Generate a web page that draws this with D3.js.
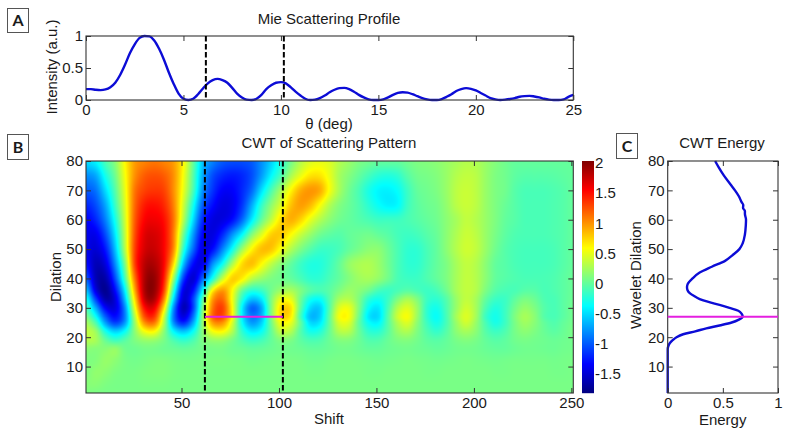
<!DOCTYPE html>
<html><head><meta charset="utf-8">
<style>html,body{margin:0;padding:0;background:#fff}svg{display:block}text{font-family:"Liberation Sans",Arial,sans-serif;fill:#1a1a1a}</style>
<script src="https://cdn.jsdelivr.net/npm/d3@7"></script>
</head><body><svg id="c" width="786" height="433"></svg>
<script>
// ---- Panel A: Mie scattering profile
const thetaValues=[0,.25,.5,.75,1,1.25,1.5,1.75,2,2.25,2.5,2.75,3,3.25,3.5,3.75,4,4.25,4.5,4.75,5,5.25,5.5,5.75,6,6.25,6.5,6.75,7,7.25,7.5,7.75,8,8.25,8.5,8.75,9,9.25,9.5,9.75,10,10.25,10.5,10.75,11,11.25,11.5,11.75,12,12.25,12.5,12.75,13,13.25,13.5,13.75,14,14.25,14.5,14.75,15,15.25,15.5,15.75,16,16.25,16.5,16.75,17,17.25,17.5,17.75,18,18.25,18.5,18.75,19,19.25,19.5,19.75,20,20.25,20.5,20.75,21,21.25,21.5,21.75,22,22.25,22.5,22.75,23,23.25,23.5,23.75,24,24.25,24.5,24.75,25];
const intensityValues=[.17,.17,.16,.155,.165,.2,.27,.39,.55,.73,.87,.97,1,.995,.93,.8,.63,.43,.25,.1,.02,0,.02,.09,.18,.26,.31,.33,.31,.27,.19,.1,.04,.005,0,.02,.08,.17,.23,.27,.28,.26,.2,.13,.07,.02,0,.005,.03,.07,.12,.16,.185,.19,.17,.13,.08,.04,.01,0,0,.01,.04,.08,.11,.12,.115,.09,.06,.03,.01,0,0,.015,.05,.09,.14,.17,.185,.175,.15,.11,.07,.03,.01,0,.005,.015,.03,.05,.06,.065,.055,.04,.02,.005,0,0,.01,.05,.08];
const thetaMarkers=[6.15,10.15];
const thetaTicks=[0,5,10,15,20,25];
const intensityTicks=[0,.5,1];

// ---- Panel B: CWT grid (columns = shift, rows = dilation)
const shiftValues=[1,6,11,16,21,26,31,36,41,46,51,56,61,66,71,76,81,86,91,96,101,106,111,116,121,126,131,136,141,146,151,156,161,166,171,176,181,186,191,196,201,206,211,216,221,226,231,236,241,246,251];
const dilationValues=[80,75,70,65,60,55,50,45,40,36,33,30,27,25,22,19,16,12,8,4,1];
const cwtRows=[
[-.5,-.4,-.1,.15,.6,.95,1.05,1.1,1.05,.95, .6,0,-.6,-.85,-1,-1.05,-1.05,-1,-.8,-.55, -.25,.05,.3,.45,.5,.45,.3,.2,.1,.05, 0,0,0,.05,.1,.12,.15,.2,.25,.3, .28,.2,.12,.05,0,0,0,0,0,0, 0],
[-.8,-.7,-.3,.05,.55,1,1.2,1.25,1.2,1, .55,-.05,-.7,-1.05,-1.2,-1.25,-1.2,-1.05,-.75,-.4, -.1,.25,.5,.68,.68,.5,.25,.12,0,-.12, -.22,-.25,-.2,-.05,.05,.08,.12,.2,.3,.35, .32,.2,.1,.05,-.02,-.05,-.05,-.05,-.04,-.02, 0],
[-1,-.9,-.5,-.05,.5,1.1,1.3,1.35,1.3,1, .5,-.1,-.8,-1.15,-1.35,-1.35,-1.2,-.95,-.5,-.1, .25,.6,.88,.98,.9,.55,.25,.05,-.1,-.28, -.4,-.42,-.35,-.15,0,.05,.1,.2,.33,.38, .33,.2,.1,.05,-.05,-.1,-.1,-.1,-.08,-.05, 0],
[-1.2,-1.05,-.7,-.15,.45,1.15,1.45,1.5,1.4,1.05, .4,-.3,-1,-1.3,-1.45,-1.4,-1.15,-.7,-.2,.15, .45,.8,.95,.85,.58,.3,.12,.02,-.08,-.22, -.35,-.42,-.38,-.15,-.03,.03,.07,.18,.32,.38, .33,.2,.1,.02,-.05,-.1,-.1,-.1,-.08,-.05, 0],
[-1.35,-1.2,-.85,-.3,.4,1.2,1.55,1.6,1.5,1.1, .3,-.5,-1.2,-1.45,-1.45,-1.3,-.95,-.45,0,.35, .7,.88,.75,.5,.3,.15,.05,0,-.05,-.1, -.15,-.15,-.15,-.1,-.05,0,.05,.15,.25,.35, .3,.2,.1,0,-.05,-.1,-.1,-.1,-.08,-.05, 0],
[-1.4,-1.4,-1.05,-.45,.35,1.25,1.65,1.7,1.55,1.05, .05,-.75,-1.35,-1.45,-1.2,-.8,-.4,.1,.45,.75, .78,.6,.38,.2,.05,-.02,-.05,0,.03,.05, 0,-.05,-.12,-.15,-.12,-.05,.02,.15,.28,.38, .33,.2,.08,-.02,-.08,-.1,-.1,-.1,-.08,-.05, 0],
[-1.4,-1.5,-1.25,-.6,.3,1.3,1.7,1.75,1.55,1, -.2,-.95,-1.45,-1.3,-.85,-.35,.2,.6,.82,.8, .55,.3,.1,-.05,-.15,-.15,-.1,0,.08,.15, .15,.03,-.1,-.2,-.2,-.1,0,.15,.3,.4, .35,.2,.05,-.05,-.1,-.12,-.12,-.12,-.1,-.05, 0],
[-1.3,-1.6,-1.45,-.8,.1,1.3,1.8,1.85,1.55,.7, -.6,-1.3,-1.4,-.8,-.35,.25,.7,.82,.6,.35, .15,0,-.15,-.25,-.25,-.15,0,.18,.26,.28, .2,.05,-.1,-.2,-.2,-.1,0,.1,.25,.35, .3,.15,0,-.05,-.1,-.12,-.12,-.12,-.1,-.05, 0],
[-1,-1.6,-1.65,-1.05,-.1,1.1,1.85,1.95,1.45,.2, -1.1,-1.5,-.95,-.3,.35,.75,.65,.35,.2,.1, .05,0,-.1,-.2,-.2,-.1,0,.12,.22,.25, .18,.05,-.1,-.15,-.15,-.08,0,.1,.25,.35, .3,.15,0,-.05,-.08,-.1,-.1,-.1,-.08,-.03, .02],
[-.6,-1.45,-1.75,-1.3,-.4,.9,1.85,1.95,1.3,-.2, -1.4,-1.3,-.4,.6,.95,.6,.05,-.2,-.15,.05, .2,.25,.1,-.05,-.1,-.03,.1,.2,.15,.05, -.1,-.15,-.1,-.05,-.1,-.15,-.1,.05,.25,.35, .3,.1,-.05,-.1,-.1,-.05,-.05,-.1,-.08,-.03, .02],
[-.3,-1.1,-1.65,-1.45,-.6,.7,1.75,1.85,1.05,-.5, -1.5,-1.1,-.05,.95,1.15,.55,-.2,-.6,-.45,.1, .5,.5,.05,-.3,-.35,-.05,.25,.3,.1,-.2, -.3,-.15,.1,.25,.1,-.15,-.2,-.05,.2,.35, .25,0,-.15,-.15,-.02,.08,.03,-.08,-.1,-.03, .03],
[-.1,-.7,-1.35,-1.45,-.8,.5,1.5,1.6,.7,-.8, -1.6,-1.1,.1,1.1,1.3,.6,-.4,-.95,-.7,.1, .7,.7,0,-.5,-.55,-.05,.45,.5,.1,-.35, -.45,-.1,.3,.45,.2,-.2,-.3,-.08,.2,.4, .25,-.08,-.25,-.15,.05,.18,.1,-.05,-.1,-.03, .05],
[.1,-.35,-1,-1.3,-.85,.3,1.25,1.35,.4,-.9, -1.45,-.9,.2,1.15,1.25,.6,-.4,-.85,-.65,.1, .7,.65,-.1,-.62,-.55,0,.55,.55,.05,-.45, -.5,-.05,.4,.55,.2,-.2,-.35,-.1,.25,.45, .25,-.15,-.3,-.15,.1,.25,.15,-.05,-.1,-.03, .05],
[.25,-.1,-.75,-1.1,-.75,.2,1,1.1,.3,-.8, -1.2,-.7,.2,.95,1,.45,-.35,-.75,-.55,.05, .55,.5,0,-.5,-.45,0,.45,.45,0,-.35, -.4,-.05,.3,.45,.15,-.15,-.3,-.1,.2,.4, .2,-.1,-.28,-.15,.08,.22,.14,0,-.07,0, .06],
[.35,.2,-.3,-.55,-.35,.15,.55,.6,.15,-.4, -.6,-.35,.15,.55,.6,.3,-.2,-.45,-.35,0, .35,.3,-.05,-.3,-.25,.02,.3,.3,.03,-.2, -.22,-.03,.2,.28,.1,-.08,-.18,-.05,.15,.25, .15,-.05,-.15,-.08,.07,.15,.1,.02,-.03,.02, .08],
[.3,.25,0,-.15,-.05,.1,.2,.2,.08,-.1, -.2,-.1,.1,.2,.2,.08,-.08,-.18,-.13,0, .12,.1,-.02,-.1,-.08,.03,.12,.12,.03,-.07, -.07,.02,.1,.12,.06,-.02,-.05,0,.08,.12, .08,0,-.05,-.02,.05,.08,.06,.04,.02,.04, .06],
[.15,.13,.14,.18,.05,.04,.07,.07,.04,.02, 0,.02,.06,.08,.08,.04,.02,-.01,0,.03, .06,.05,.03,0,0,.03,.06,.06,.03,0, 0,.03,.05,.06,.04,.02,0,.02,.05,.06, .05,.02,0,0,.03,.05,.05,.04,.03,.05, .06],
[.1,.12,.19,.15,.08,.06,.08,.1,.1,.08, .07,.07,.08,.09,.09,.08,.07,.05,.06,.07, .08,.08,.07,.05,.05,.07,.08,.08,.07,.06, .05,.06,.07,.08,.07,.06,.05,.06,.07,.08, .07,.06,.05,.06,.07,.07,.07,.07,.06,.07, .08],
[.1,.17,.15,.1,.08,.08,.1,.11,.11,.09, .08,.08,.08,.08,.08,.08,.08,.08,.08,.08, .08,.08,.08,.07,.07,.08,.08,.08,.08,.07, .07,.08,.08,.08,.08,.07,.07,.08,.08,.08, .08,.08,.07,.07,.08,.08,.08,.08,.07,.07, .08],
[.13,.14,.1,.08,.08,.08,.09,.09,.09,.08, .08,.08,.08,.08,.08,.08,.08,.08,.08,.08, .08,.08,.08,.08,.08,.08,.08,.08,.08,.08, .08,.08,.08,.08,.08,.08,.08,.08,.08,.08, .08,.08,.08,.08,.08,.08,.08,.08,.08,.08, .08],
[.1,.09,.08,.08,.08,.08,.08,.08,.08,.08, .08,.08,.08,.08,.08,.08,.08,.08,.08,.08, .08,.08,.08,.08,.08,.08,.08,.08,.08,.08, .08,.08,.08,.08,.08,.08,.08,.08,.08,.08, .08,.08,.08,.08,.08,.08,.08,.08,.08,.08, .08]
];
const shiftMarkers=[62,102];
const ridgeDilation=27;
const shiftTicks=[50,100,150,200,250];
const dilationTicks=[10,20,30,40,50,60,70,80];
const colorTicks=[2,1.5,1,.5,0,-.5,-1,-1.5];
const colorDomain=[-1.82,2.03];

// ---- Panel C: CWT energy by dilation
const energyDilation=[80,78,75,72,70,68,66,65,64,63,62,60,58,55,52,50,48,46,44,42,40,38,37,36,35,34,33,32,31,30,29,28,27,26,25,24,23,22,21,20,19,18,17,16,10,1];
const energyValues=[.43,.46,.51,.57,.61,.645,.67,.685,.683,.70,.70,.71,.708,.70,.68,.65,.59,.52,.40,.29,.225,.18,.175,.18,.2,.24,.29,.37,.47,.56,.64,.67,.68,.645,.58,.47,.35,.25,.14,.08,.045,.02,.006,0,0,0];
const energyTicks=[0,.5,1];

const BLUE="#0c0cd6",MAG="#e41fe0",AX="#333";
const svg=d3.select("#c");
const FS=15;

function frame(x,y,xt,yt,xf,yf){
  const [x0,x1]=x.range(),[y0,y1]=y.range();
  const g=svg.append("g");
  const inner=(sel)=>{sel.select(".domain").remove();sel.selectAll("line").attr("stroke",AX);sel.selectAll("text").attr("font-size",FS).attr("fill","#1a1a1a");};
  g.append("g").attr("transform",`translate(0,${y0})`).call(d3.axisBottom(x).tickValues(xt).tickFormat(xf||d3.format("")).tickSizeInner(-5).tickSizeOuter(0).tickPadding(4)).call(inner);
  g.append("g").attr("transform",`translate(0,${y1})`).call(d3.axisTop(x).tickValues(xt).tickFormat("").tickSizeInner(-5).tickSizeOuter(0)).call(inner);
  g.append("g").attr("transform",`translate(${x0},0)`).call(d3.axisLeft(y).tickValues(yt).tickFormat(yf||d3.format("")).tickSizeInner(-5).tickSizeOuter(0).tickPadding(3)).call(inner);
  g.append("g").attr("transform",`translate(${x1},0)`).call(d3.axisRight(y).tickValues(yt).tickFormat("").tickSizeInner(-5).tickSizeOuter(0)).call(inner);
  g.append("rect").attr("x",x0).attr("y",y1).attr("width",x1-x0).attr("height",y0-y1).attr("fill","none").attr("stroke",AX).attr("stroke-width",1.1);
  return g;
}
function label(t,x,y,rot,size,weight,font){
  const s=svg.append("text").text(t).attr("text-anchor","middle").attr("font-size",size||FS);
  if(weight)s.attr("font-weight",weight);
  if(font)s.style("font-family",font);
  if(rot)s.attr("transform",`translate(${x},${y}) rotate(-90)`);else s.attr("x",x).attr("y",y);
  return s;
}
function tag(t,x,y,w,h){
  svg.append("rect").attr("x",x+.5).attr("y",y+.5).attr("width",w).attr("height",h).attr("fill","#fff").attr("stroke","#555").attr("stroke-width",1);
  label(t,x+w/2+.5,y+h/2+6,false,16,"bold","Lato,'Open Sans',sans-serif");
}
const fmtDec=v=>String(v);
const jet=t=>{const c=v=>Math.round(255*Math.max(0,Math.min(1,1.5-Math.abs(4*t-v))));return `rgb(${c(3)},${c(2)},${c(1)})`;};
const color=d3.scaleSequential(jet).domain(colorDomain);

// A
const xA=d3.scaleLinear().domain([0,25]).range([86,573.3]);
const yA=d3.scaleLinear().domain([0,1]).range([100,36]);
svg.append("path").datum(thetaValues.map((t,i)=>[t,intensityValues[i]]))
  .attr("d",d3.line().x(d=>xA(d[0])).y(d=>yA(d[1])).curve(d3.curveMonotoneX))
  .attr("fill","none").attr("stroke",BLUE).attr("stroke-width",2.4);
frame(xA,yA,thetaTicks,intensityTicks,null,fmtDec);
svg.selectAll(".mA").data(thetaMarkers).join("line").attr("x1",d=>xA(d)).attr("x2",d=>xA(d)).attr("y1",yA.range()[1]).attr("y2",yA.range()[0])
  .attr("stroke","#000").attr("stroke-width",2).attr("stroke-dasharray","5.5,2.5");
label("Mie Scattering Profile",329,24);
label("θ (deg)",329,129);
label("Intensity (a.u.)",57,67,true);
tag("A",7,8,21,24);

// B
const xB=d3.scaleLinear().domain([1,251]).range([86,573.3]);
const yB=d3.scaleLinear().domain([1,80]).range([393,161]);
const colIdx=d3.scaleLinear().domain(shiftValues).range(shiftValues.map((_,i)=>i));
const rowIdx=d3.scaleLinear().domain(dilationValues).range(dilationValues.map((_,i)=>i));
const cr=(p0,p1,p2,p3,t)=>.5*(2*p1+(p2-p0)*t+(2*p0-5*p1+4*p2-p3)*t*t+(3*p1-p0-3*p2+p3)*t*t*t);
function sample(d,s){
  const fr=rowIdx(d),fc=colIdx(s),r=Math.min(Math.floor(fr),dilationValues.length-2),c=Math.min(Math.floor(fc),shiftValues.length-2);
  const R=i=>cwtRows[Math.max(0,Math.min(dilationValues.length-1,i))],C=i=>Math.max(0,Math.min(shiftValues.length-1,i));
  const vals=[-1,0,1,2].map(k=>{const row=R(r+k);return cr(row[C(c-1)],row[C(c)],row[C(c+1)],row[C(c+2)],fc-c);});
  return cr(vals[0],vals[1],vals[2],vals[3],fr-r);
}
const cw=Math.round(xB.range()[1]-xB.range()[0]),ch=Math.round(yB.range()[0]-yB.range()[1]);
const cv=document.createElement("canvas");cv.width=cw;cv.height=ch;
const ctx=cv.getContext("2d");
for(let j=0;j<ch;j++)for(let i=0;i<cw;i++){
  ctx.fillStyle=color(sample(yB.invert(yB.range()[1]+j+.5),xB.invert(xB.range()[0]+i+.5)));
  ctx.fillRect(i,j,1,1);
}
svg.append("image").attr("x",xB.range()[0]).attr("y",yB.range()[1]).attr("width",cw).attr("height",ch).attr("href",cv.toDataURL());
frame(xB,yB,shiftTicks,dilationTicks);
svg.selectAll(".mB").data(shiftMarkers).join("line").attr("x1",d=>xB(d)).attr("x2",d=>xB(d)).attr("y1",yB.range()[1]).attr("y2",yB.range()[0])
  .attr("stroke","#000").attr("stroke-width",2).attr("stroke-dasharray","5.5,2.5");
svg.append("line").attr("x1",xB(shiftMarkers[0])).attr("x2",xB(shiftMarkers[1])).attr("y1",yB(ridgeDilation)).attr("y2",yB(ridgeDilation)).attr("stroke",MAG).attr("stroke-width",2);
label("CWT of Scattering Pattern",329,148);
label("Shift",329,424);
label("Dilation",61,277,true);
tag("B",7,134,21,25);

// colour bar
const yC=d3.scaleLinear().domain(colorDomain).range([393,161]);
const barN=232;
svg.selectAll(".bar").data(d3.range(barN)).join("rect").attr("x",582).attr("width",12)
  .attr("y",d=>161+d).attr("height",1.2).attr("fill",d=>color(yC.invert(161+d+.5)));
svg.append("g").selectAll("text").data(colorTicks).join("text").attr("x",595).attr("y",d=>yC(d)+5.5).attr("font-size",FS).text(d=>String(d));

// C
const xE=d3.scaleLinear().domain([0,1]).range([667.7,778]);
const yE=d3.scaleLinear().domain([1,80]).range([393,161]);
svg.append("path").datum(energyDilation.map((d,i)=>[energyValues[i],d]))
  .attr("d",d3.line().x(d=>xE(d[0])).y(d=>yE(d[1])).curve(d3.curveMonotoneY))
  .attr("fill","none").attr("stroke",BLUE).attr("stroke-width",2.4);
frame(xE,yE,energyTicks,dilationTicks,fmtDec);
svg.append("line").attr("x1",xE(0)).attr("x2",xE(1)).attr("y1",yE(ridgeDilation)).attr("y2",yE(ridgeDilation)).attr("stroke",MAG).attr("stroke-width",2);
label("CWT Energy",722,148);
label("Energy",722.7,424.5);
label("Wavelet Dilation",641,275,true);
tag("C",616,133,21,25);
</script></body></html>
